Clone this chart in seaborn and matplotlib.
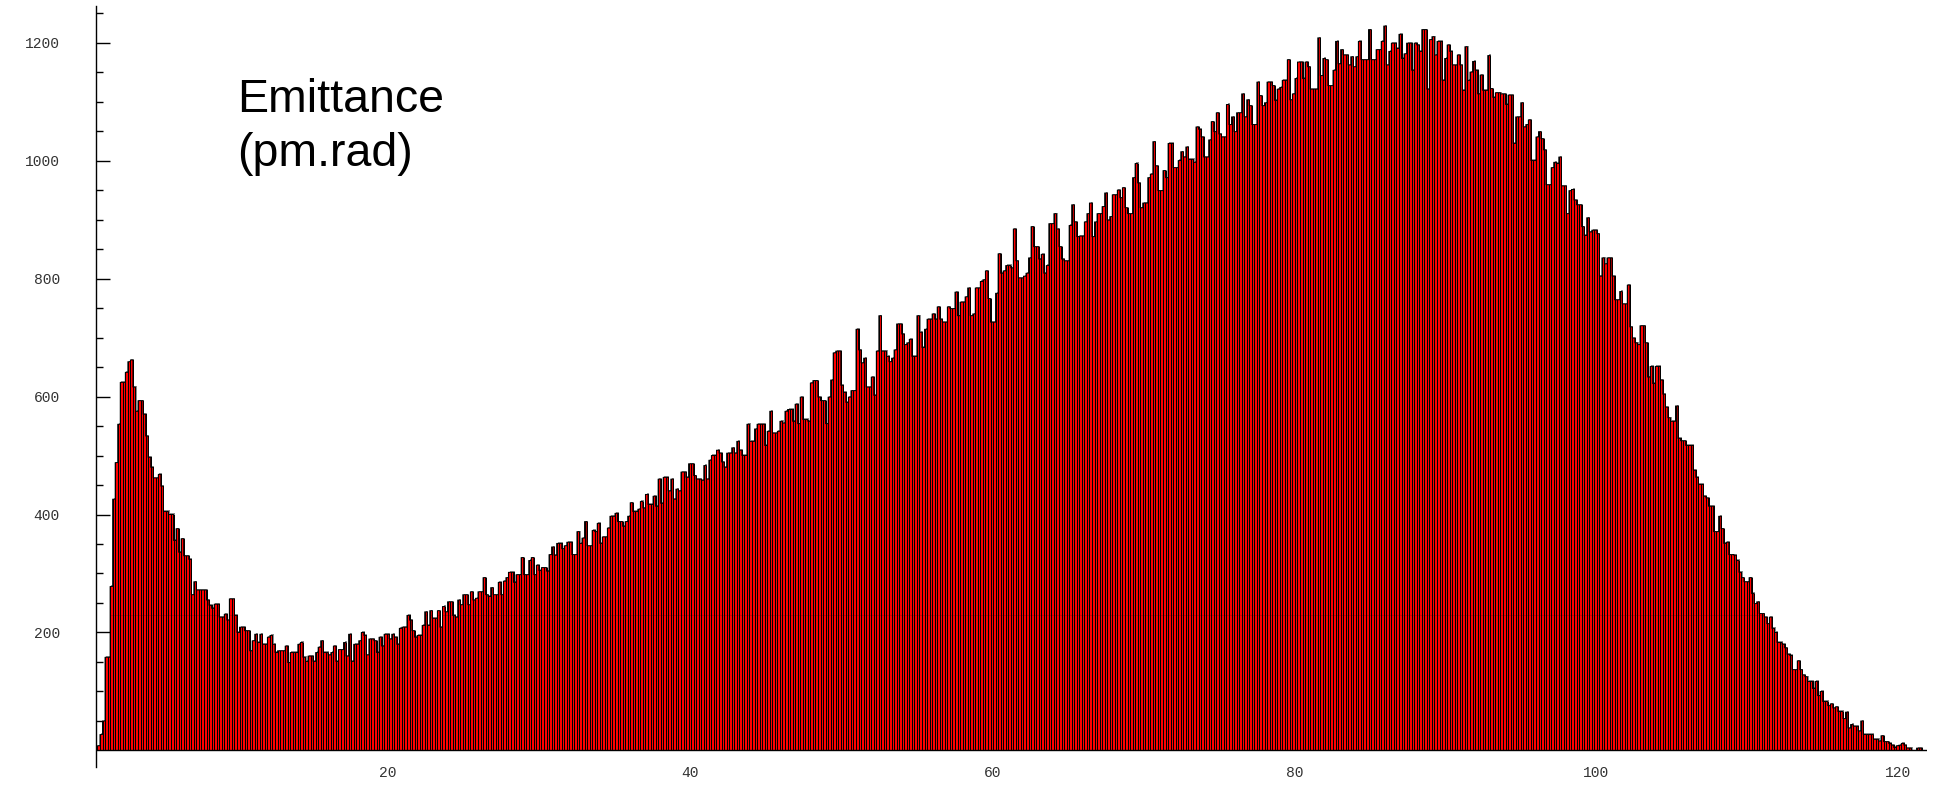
"""Emittance histogram (pm.rad) - red bars with grey drop shadow."""
import matplotlib
matplotlib.use("Agg")
import matplotlib.pyplot as plt
import numpy as np
import pandas as pd
import seaborn as sns

# --- data: counts per bin -------------------------------------------------- #
BIN_START = 0.75      # left edge of first bin (pm.rad)
BIN_WIDTH = 0.168     # bin width (pm.rad)

COUNTS_00_15 = [
    8, 27, 50, 158, 158, 278, 426, 488, 553, 624, 624, 641, 659, 662, 616, 575,
    593, 593, 570, 533, 497, 480, 462, 462, 468, 448, 405, 405, 400, 400, 356,
    376, 336, 359, 330, 330, 324, 264, 286, 272, 272, 272, 272, 255, 246, 241,
    248, 248, 226, 226, 231, 221, 257, 257, 229, 200, 209, 209, 203, 203, 169,
    186, 197, 183, 197, 180, 180, 192, 195, 180, 166, 169, 169, 169, 177, 149,
    166, 166, 166, 180, 183, 158, 151, 160, 160, 151, 166, 175,
]
COUNTS_15_30 = [
    186, 166, 166, 162, 166, 177, 151, 171, 171, 183, 160, 197, 151, 180, 180,
    186, 200, 195, 162, 189, 189, 186, 166, 192, 177, 197, 197, 189, 197, 192,
    180, 207, 209, 209, 229, 221, 203, 192, 195, 195, 212, 235, 212, 237, 224,
    224, 237, 209, 244, 235, 252, 252, 229, 226, 255, 247, 264, 264, 247, 269,
    255, 258, 269, 269, 293, 264, 261, 276, 264, 264, 285, 264, 287, 293, 302,
    302, 285, 298, 298, 327, 298, 298, 322, 327, 298, 314, 305, 310, 310, 304,
]
COUNTS_30_45 = [
    332, 345, 331, 351, 351, 342, 347, 353, 353, 332, 332, 371, 351, 360, 388,
    347, 347, 373, 371, 385, 351, 362, 362, 377, 397, 397, 402, 388, 388, 380,
    388, 397, 420, 405, 405, 409, 422, 411, 434, 417, 417, 431, 414, 460, 419,
    463, 463, 440, 460, 426, 443, 440, 472, 472, 463, 486, 486, 466, 460, 460,
    458, 483, 460, 492, 500, 500, 509, 504, 489, 480, 504, 504, 513, 504, 524,
    509, 500, 500, 553, 524, 524, 545, 553, 553, 553, 517, 541, 575, 538, 538,
    541,
]
COUNTS_45_61 = [
    558, 555, 575, 578, 578, 558, 587, 554, 599, 561, 561, 558, 623, 627, 627,
    599, 593, 593, 554, 599, 628, 674, 677, 677, 619, 607, 590, 599, 610, 610,
    714, 679, 657, 665, 616, 616, 633, 602, 677, 737, 677, 677, 668, 659, 665,
    679, 723, 723, 706, 688, 691, 697, 668, 668, 737, 709, 683, 714, 731, 731,
    740, 731, 752, 731, 726, 726, 752, 749, 749, 777, 737, 760, 760, 769, 784,
    737, 740, 784, 784, 795, 798, 813, 766, 726, 726, 775, 842, 809, 813, 822,
    822,
]
COUNTS_61_76 = [
    818, 884, 830, 801, 801, 804, 809, 835, 888, 854, 854, 833, 841, 809, 822,
    893, 893, 910, 884, 854, 833, 830, 830, 890, 925, 896, 871, 872, 872, 896,
    910, 928, 871, 896, 910, 910, 922, 945, 899, 905, 942, 942, 950, 937, 954,
    920, 910, 910, 971, 995, 962, 920, 928, 928, 971, 977, 1032, 991, 949, 949,
    983, 971, 1029, 1029, 988, 988, 1000, 1015, 1006, 1023, 1002, 1002, 997,
    1057, 1053, 1040, 1006, 1006, 1035, 1066, 1049, 1081, 1045, 1040, 1040,
    1095, 1061, 1074, 1049, 1081,
]
COUNTS_76_92 = [
    1081, 1113, 1074, 1103, 1093, 1061, 1061, 1133, 1110, 1093, 1098, 1133,
    1133, 1127, 1102, 1121, 1124, 1136, 1136, 1171, 1103, 1113, 1139, 1167,
    1167, 1139, 1167, 1159, 1121, 1121, 1121, 1208, 1144, 1173, 1171, 1127,
    1127, 1153, 1202, 1164, 1188, 1179, 1179, 1162, 1176, 1159, 1176, 1202,
    1171, 1171, 1171, 1222, 1171, 1171, 1188, 1188, 1202, 1228, 1162, 1185,
    1199, 1199, 1190, 1214, 1173, 1181, 1199, 1199, 1153, 1199, 1196, 1185,
    1222, 1222, 1121, 1205, 1210, 1179, 1202, 1202, 1136, 1173, 1196, 1185,
    1162, 1162, 1179, 1162, 1119, 1193, 1136,
]
COUNTS_92_107 = [
    1150, 1168, 1153, 1113, 1145, 1119, 1119, 1178, 1122, 1107, 1115, 1115,
    1113, 1113, 1095, 1111, 1111, 1029, 1074, 1074, 1098, 1057, 1061, 1069,
    1000, 1000, 1040, 1049, 1037, 1018, 959, 959, 988, 997, 995, 1006, 957,
    957, 910, 949, 951, 933, 925, 925, 888, 873, 903, 879, 882, 882, 876, 804,
    835, 825, 835, 835, 804, 764, 764, 778, 757, 757, 789, 718, 699, 691, 688,
    720, 720, 691, 633, 651, 622, 651, 651, 628, 604, 582, 564, 558, 558, 584,
    529, 525, 525, 517, 517, 517, 475, 463,
]
COUNTS_107_122 = [
    451, 451, 431, 428, 414, 414, 371, 371, 397, 376, 351, 353, 332, 332, 331,
    322, 302, 293, 286, 286, 293, 266, 249, 252, 232, 232, 226, 215, 226, 207,
    200, 183, 183, 180, 174, 163, 161, 137, 137, 152, 137, 128, 125, 117, 117,
    105, 117, 93, 100, 83, 83, 76, 79, 72, 74, 66, 66, 54, 65, 38, 44, 41, 41,
    33, 50, 27, 27, 27, 27, 19, 19, 16, 25, 15, 15, 12, 9, 5, 8, 9, 12, 9, 4,
    4, 0, 0, 4, 4, 0,
]

Y_MAJOR = [200, 400, 600, 800, 1000, 1200]
Y_MINOR = [50, 100, 150, 250, 300, 350, 450, 500, 550, 650, 700, 750,
           850, 900, 950, 1050, 1100, 1150, 1250]
X_MAJOR = [20, 40, 60, 80, 100, 120]
MARK_LEVEL = 230      # faint level line seen across the bars

BAR_RED = "#ff0000"
SHADOW_GREY = "#8c8c8c"
PX = 0.72             # one pixel in points at dpi 100

counts = np.array(COUNTS_00_15 + COUNTS_15_30 + COUNTS_30_45 + COUNTS_45_61
                  + COUNTS_61_76 + COUNTS_76_92 + COUNTS_92_107 + COUNTS_107_122,
                  dtype=float)
edges = BIN_START + BIN_WIDTH * np.arange(len(counts) + 1)
df = pd.DataFrame({
    "emittance": 0.5 * (edges[:-1] + edges[1:]),
    "count": counts,
})

sns.set_theme(style="white")
plt.rcParams["font.family"] = ["Liberation Sans", "DejaVu Sans"]

fig = plt.figure(figsize=(19.41, 7.89), dpi=100)
ax = fig.add_axes([0.0495, 0.0279, 0.9433, 0.9645])

# drop shadow: one pixel right and up
dx = 0.07
shadow = df.assign(emittance=df["emittance"] + dx,
                   count=np.where(df["count"] > 0, df["count"] + 1.8, 0))
sns.histplot(data=shadow, x="emittance", weights="count",
             bins=list(edges + dx), color=SHADOW_GREY, linewidth=0,
             alpha=1, antialiased=False, ax=ax, zorder=1)
# red fill, no edges
sns.histplot(data=df, x="emittance", weights="count", bins=list(edges),
             color=BAR_RED, linewidth=0, alpha=1, antialiased=False,
             ax=ax, zorder=2)
# single one-pixel separator per bin edge, plus the top outline
ax.vlines(edges[1:-1], 0, np.maximum(counts[:-1], counts[1:]),
          colors="black", linewidth=PX, antialiased=False, zorder=3)
ax.vlines(edges[0], 0, counts[0], colors="black", linewidth=PX,
          antialiased=False, zorder=3)
sns.histplot(data=df, x="emittance", weights="count", bins=list(edges),
             element="step", fill=False, color="black", linewidth=PX,
             ax=ax, zorder=3)

above = df["count"].values > MARK_LEVEL
ax.hlines(np.full(above.sum(), MARK_LEVEL), edges[:-1][above],
          edges[1:][above], colors="black", linewidth=0.6, alpha=0.18,
          zorder=4)
ax.axhline(0, color="black", linewidth=1.0, zorder=5)

ax.set_xlim(0.66, 121.9)
ax.set_ylim(-28, 1262)
ax.set_xlabel("")
ax.set_ylabel("")
for side in ("top", "right", "bottom"):
    ax.spines[side].set_visible(False)
ax.spines["left"].set_color("black")
ax.spines["left"].set_linewidth(1.0)

ax.set_yticks(Y_MAJOR)
ax.set_yticks(Y_MINOR, minor=True)
ax.set_yticklabels([str(v) for v in Y_MAJOR])
ax.set_xticks(X_MAJOR)
ax.set_xticklabels([str(v) for v in X_MAJOR])
ax.tick_params(axis="y", which="major", direction="in", length=10, width=1,
               color="black", pad=26, labelsize=10.5, labelcolor="#333333",
               left=True)
ax.tick_params(axis="y", which="minor", direction="in", length=5, width=1,
               color="black", left=True)
ax.tick_params(axis="x", which="both", length=0, pad=-1, labelsize=10.5,
               labelcolor="#333333")
for lab in ax.get_xticklabels() + ax.get_yticklabels():
    lab.set_family(["Liberation Mono", "DejaVu Sans Mono"])

ax.text(10.0, 1082, "Emittance", ha="left", va="baseline",
        fontsize=33.5, color="black")
ax.text(10.0, 991, "(pm.rad)", ha="left", va="baseline",
        fontsize=33.5, color="black")

fig.savefig("out.png", dpi=100)
plt.close(fig)
